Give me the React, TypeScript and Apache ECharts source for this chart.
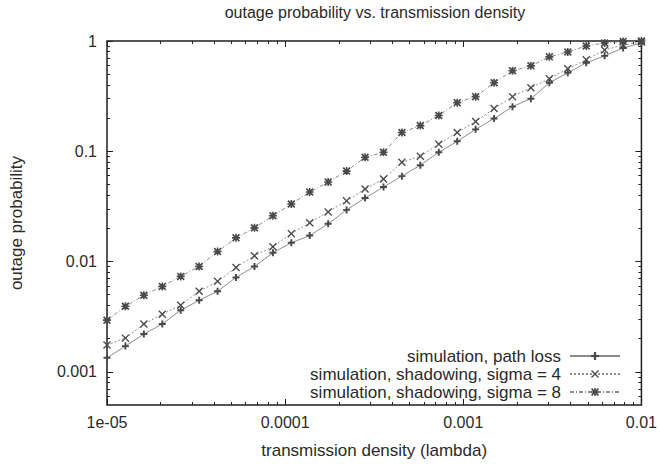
import React, { useEffect, useRef } from "react";
import * as echarts from "echarts";

// transmission density (lambda) sample points
const xValues = [
  1.0e-5, 1.269e-5, 1.61e-5, 2.044e-5, 2.593e-5, 3.291e-5, 4.176e-5, 5.3e-5, 6.726e-5, 8.535e-5,
  1.083e-4, 1.374e-4, 1.744e-4, 2.213e-4, 2.809e-4, 3.565e-4, 4.523e-4, 5.74e-4, 7.284e-4, 9.244e-4,
  1.173e-3, 1.489e-3, 1.889e-3, 2.397e-3, 3.042e-3, 3.861e-3, 4.899e-3, 6.217e-3, 7.89e-3, 1.0e-2,
];

const pathLoss = [
  0.00134, 0.00171, 0.0022, 0.00271, 0.00362, 0.00445, 0.00537, 0.00718, 0.00902, 0.012,
  0.0148, 0.0172, 0.022, 0.0294, 0.0377, 0.0474, 0.0595, 0.0748, 0.098, 0.123,
  0.158, 0.198, 0.254, 0.3, 0.418, 0.515, 0.634, 0.733, 0.865, 0.96,
];

const sigma4 = [
  0.00175, 0.00202, 0.00271, 0.00333, 0.00402, 0.00537, 0.00661, 0.00883, 0.0113, 0.0136,
  0.0179, 0.0225, 0.0282, 0.0355, 0.0455, 0.056, 0.0796, 0.0902, 0.116, 0.148,
  0.186, 0.244, 0.313, 0.377, 0.455, 0.56, 0.675, 0.83, 0.92, 0.98,
];

const sigma8 = [
  0.00294, 0.00393, 0.00494, 0.00595, 0.00733, 0.00902, 0.0123, 0.0164, 0.0202, 0.026,
  0.0333, 0.0427, 0.0526, 0.0661, 0.0883, 0.098, 0.148, 0.171, 0.211, 0.276,
  0.313, 0.418, 0.537, 0.595, 0.718, 0.796, 0.902, 0.96, 0.99, 1.0,
];

const seriesNames = [
  "simulation, path loss",
  "simulation, shadowing, sigma = 4",
  "simulation, shadowing, sigma = 8",
];

const xMajor = [1e-5, 1e-4, 1e-3, 1e-2];
const xTickLabels = ["1e-05", "0.0001", "0.001", "0.01"];
const xMinor = [
  2e-5, 3e-5, 4e-5, 5e-5, 6e-5, 7e-5, 8e-5, 9e-5,
  2e-4, 3e-4, 4e-4, 5e-4, 6e-4, 7e-4, 8e-4, 9e-4,
  2e-3, 3e-3, 4e-3, 5e-3, 6e-3, 7e-3, 8e-3, 9e-3,
];

const yMajor = [0.001, 0.01, 0.1, 1];
const yTickLabels = ["0.001", "0.01", "0.1", "1"];
const yMinor = [
  6e-4, 7e-4, 8e-4, 9e-4,
  2e-3, 3e-3, 4e-3, 5e-3, 6e-3, 7e-3, 8e-3, 9e-3,
  2e-2, 3e-2, 4e-2, 5e-2, 6e-2, 7e-2, 8e-2, 9e-2,
  0.2, 0.3, 0.4, 0.5, 0.6, 0.7, 0.8, 0.9,
];

const titleText = "outage probability vs. transmission density";
const xName = "transmission density (lambda)";
const yName = "outage probability";

const FONT = "'Liberation Sans', Arial, Helvetica, sans-serif";
const TEXT = "#2a2a2a";
const AXIS = "#1e1e1e";

const PLUS = "path://M3.6,0h2.8v10h-2.8z M0,3.6h10v2.8h-10z";
const CROSS =
  "path://M0,1.2L1.2,0L5,3.8L8.8,0L10,1.2L6.2,5L10,8.8L8.8,10L5,6.2L1.2,10L0,8.8L3.8,5Z";
const STAR =
  "path://M4,0h2v10h-2z M0,4h10v2h-10z M0,1.5L1.5,0L5,3.5L8.5,0L10,1.5L6.5,5L10,8.5L8.5,10L5,6.5L1.5,10L0,8.5L3.5,5Z";

function findLabel(v: number, majors: number[], labels: string[]) {
  const lv = Math.log10(v);
  const i = majors.findIndex((m) => Math.abs(Math.log10(m) - lv) < 0.01);
  return i >= 0 ? labels[i] : "";
}

export default function App() {
  const ref = useRef<HTMLDivElement>(null);

  useEffect(() => {
    if (!ref.current) return;
    const chart = echarts.init(ref.current, undefined, { renderer: "svg" });

    const xRange = { min: 1e-5, max: 1e-2 };
    const yRange = { min: 0.0005, max: 1 };

    const tickAxis = (
      kind: "x" | "y",
      position: string,
      values: number[],
      length: number,
      extra: any = {}
    ) => ({
      type: "log",
      logBase: 10,
      ...(kind === "x" ? xRange : yRange),
      position,
      axisLine: { show: false },
      splitLine: { show: false },
      minorTick: { show: false },
      axisTick: {
        show: true,
        inside: true,
        length,
        customValues: values,
        lineStyle: { color: AXIS, width: 1 },
      },
      axisLabel: { show: false },
      ...extra,
    });

    const mkSeries = (
      name: string,
      vals: number[],
      symbol: string,
      size: number,
      dash: any
    ) => ({
      name,
      type: "line",
      xAxisIndex: 0,
      yAxisIndex: 0,
      data: xValues.map((x, i) => [x, vals[i]]),
      symbol,
      symbolSize: size,
      showSymbol: true,
      lineStyle: { color: "#8c8c8c", width: 1, type: dash },
      itemStyle: { color: "#4a4a4a" },
      emphasis: { disabled: true },
      z: 3,
    });

    const option: any = {
      animation: false,
      backgroundColor: "#ffffff",
      textStyle: { fontFamily: FONT },
      grid: {
        left: 107,
        right: 17,
        top: 41,
        bottom: 58,
        show: true,
        borderColor: AXIS,
        borderWidth: 1.5,
        backgroundColor: "transparent",
      },
      graphic: [
        {
          type: "text",
          x: 375,
          y: 12,
          style: {
            text: titleText,
            fontFamily: FONT,
            fontSize: 16,
            fill: TEXT,
            align: "center",
            verticalAlign: "middle",
          },
        },
      ],
      xAxis: [
        tickAxis("x", "bottom", xMajor, 6, {
          name: xName,
          nameLocation: "middle",
          nameGap: 37,
          nameTextStyle: { fontFamily: FONT, fontSize: 17, color: TEXT },
          axisLabel: {
            show: true,
            customValues: xMajor,
            margin: 9,
            fontFamily: FONT,
            fontSize: 16,
            color: TEXT,
            formatter: (v: number) => findLabel(v, xMajor, xTickLabels),
          },
        }),
        tickAxis("x", "bottom", xMinor, 3),
        tickAxis("x", "top", xMajor, 6),
        tickAxis("x", "top", xMinor, 3),
      ],
      yAxis: [
        tickAxis("y", "left", yMajor, 6, {
          name: yName,
          nameLocation: "middle",
          nameGap: 82,
          nameTextStyle: { fontFamily: FONT, fontSize: 17, color: TEXT },
          axisLabel: {
            show: true,
            customValues: yMajor,
            margin: 10,
            fontFamily: FONT,
            fontSize: 16,
            color: TEXT,
            formatter: (v: number) => findLabel(v, yMajor, yTickLabels),
          },
        }),
        tickAxis("y", "left", yMinor, 3),
        tickAxis("y", "right", yMajor, 6),
        tickAxis("y", "right", yMinor, 3),
      ],
      legend: {
        orient: "vertical",
        right: 39,
        top: 347,
        align: "right",
        padding: 0,
        itemGap: 0,
        itemWidth: 50,
        itemHeight: 10,
        selectedMode: false,
        textStyle: {
          fontFamily: FONT,
          fontSize: 17,
          color: TEXT,
          lineHeight: 18,
          padding: [0, 4, 0, 0],
        },
        data: seriesNames,
      },
      series: [
        mkSeries(seriesNames[0], pathLoss, PLUS, 7, "solid"),
        mkSeries(seriesNames[1], sigma4, CROSS, 8, [2, 2]),
        mkSeries(seriesNames[2], sigma8, STAR, 8, [4, 2, 1, 2]),
      ],
    };

    chart.setOption(option);
    return () => chart.dispose();
  }, []);

  return (
    <div
      ref={ref}
      style={{ position: "fixed", left: 0, top: 0, width: 660, height: 464 }}
    />
  );
}
